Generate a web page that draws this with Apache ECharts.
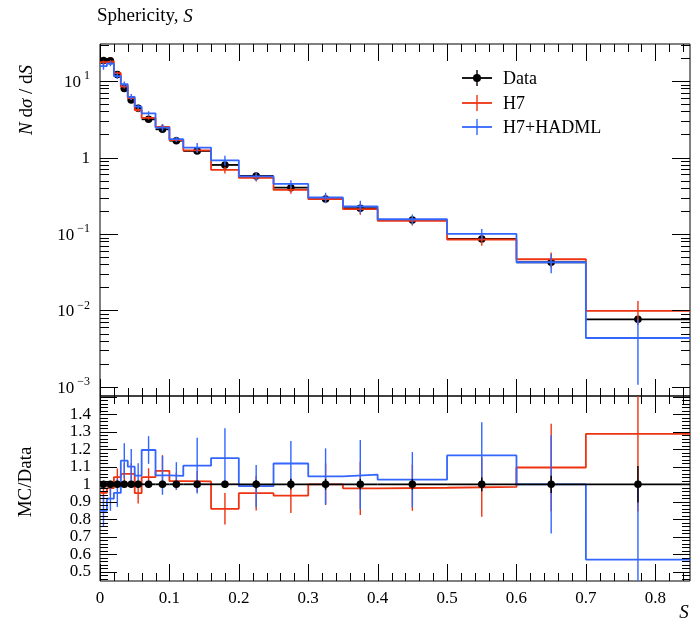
<!DOCTYPE html>
<html><head><meta charset="utf-8">
<script src="https://cdn.jsdelivr.net/npm/echarts@6/dist/echarts.min.js"></script>
<style>html,body{margin:0;padding:0;background:#fff}#c{width:691px;height:623px}</style>
</head><body><div id="c"></div>
<script>
// ---- data ----
const binEdges = [0, 0.01, 0.02, 0.03, 0.04, 0.05, 0.06, 0.08, 0.10, 0.12, 0.16, 0.20, 0.25, 0.30, 0.35, 0.40, 0.50, 0.60, 0.70, 0.85];
const dataVals = [18.5, 18.4, 12.2, 8.0, 5.65, 4.40, 3.16, 2.34, 1.66, 1.22, 0.80, 0.573, 0.403, 0.287, 0.217, 0.152, 0.086, 0.0427, 0.00767];
const dataErrs = [0.37, 0.37, 0.24, 0.16, 0.11, 0.088, 0.063, 0.047, 0.033, 0.024, 0.016, 0.014, 0.012, 0.0086, 0.0065, 0.0046, 0.0034, 0.0021, 0.0008];
const h7Vals = [17.6, 18.0, 12.7, 8.48, 5.99, 4.18, 3.29, 2.52, 1.69, 1.24, 0.688, 0.544, 0.377, 0.287, 0.212, 0.149, 0.0847, 0.0468, 0.00988];
const h7Errs = [0.93, 0.74, 0.61, 0.48, 0.34, 0.26, 0.16, 0.21, 0.083, 0.073, 0.072, 0.057, 0.040, 0.034, 0.033, 0.020, 0.0146, 0.0107, 0.0034];
const hadmlVals = [15.7, 16.9, 11.6, 9.08, 6.22, 4.62, 3.78, 2.46, 1.74, 1.35, 0.92, 0.567, 0.451, 0.300, 0.229, 0.156, 0.1002, 0.0427, 0.00437];
const hadmlErrs = [1.67, 1.29, 0.98, 0.80, 0.57, 0.31, 0.25, 0.26, 0.13, 0.195, 0.136, 0.069, 0.052, 0.046, 0.043, 0.024, 0.0163, 0.0120, 0.0033];

// ---- ticks ----
const xMajorTicks = [0, 0.1, 0.2, 0.3, 0.4, 0.5, 0.6, 0.7, 0.8];
const xMinorTicks = [0.02, 0.04, 0.06, 0.08, 0.12, 0.14, 0.16, 0.18, 0.22, 0.24, 0.26, 0.28, 0.32, 0.34, 0.36, 0.38, 0.42, 0.44, 0.46, 0.48, 0.52, 0.54, 0.56, 0.58, 0.62, 0.64, 0.66, 0.68, 0.72, 0.74, 0.76, 0.78, 0.82, 0.84];
const logMajorTicks = [0.001, 0.01, 0.1, 1, 10];
const logMinorTicks = [0.002, 0.003, 0.004, 0.005, 0.006, 0.007, 0.008, 0.009, 0.02, 0.03, 0.04, 0.05, 0.06, 0.07, 0.08, 0.09, 0.2, 0.3, 0.4, 0.5, 0.6, 0.7, 0.8, 0.9, 2, 3, 4, 5, 6, 7, 8, 9, 20, 30];
const ratioMajorTicks = [0.5, 0.6, 0.7, 0.8, 0.9, 1.0, 1.1, 1.2, 1.3, 1.4, 1.5];
const ratioMinorTicks = [0.46, 0.48, 0.52, 0.54, 0.56, 0.58, 0.62, 0.64, 0.66, 0.68, 0.72, 0.74, 0.76, 0.78, 0.82, 0.84, 0.86, 0.88, 0.92, 0.94, 0.96, 0.98, 1.02, 1.04, 1.06, 1.08, 1.12, 1.14, 1.16, 1.18, 1.22, 1.24, 1.26, 1.28, 1.32, 1.34, 1.36, 1.38, 1.42, 1.44, 1.46, 1.48];
const xTickLabels = ['0', '0.1', '0.2', '0.3', '0.4', '0.5', '0.6', '0.7', '0.8'];
const ratioTickLabels = ['0.5', '0.6', '0.7', '0.8', '0.9', '1', '1.1', '1.2', '1.3', '1.4'];

const RED = '#EE3311', BLUE = '#3366FF';
const FONT = 'Liberation Serif';

function stepData(vals) {
  const d = [];
  for (let i = 0; i < vals.length; i++) d.push([binEdges[i], vals[i]]);
  d.push([binEdges[vals.length], vals[vals.length - 1]]);
  return d;
}
function binRows(vals, errs) {
  const rows = [];
  for (let i = 0; i < vals.length; i++) {
    rows.push([(binEdges[i] + binEdges[i + 1]) / 2, vals[i], binEdges[i], binEdges[i + 1], errs[i]]);
  }
  return rows;
}
const h7Ratio = h7Vals.map((v, i) => v / dataVals[i]);
const hadmlRatio = hadmlVals.map((v, i) => v / dataVals[i]);
const h7RatioErr = h7Errs.map((e, i) => e / dataVals[i]);
const hadmlRatioErr = hadmlErrs.map((e, i) => e / dataVals[i]);
const dataRatio = dataVals.map(() => 1);
const dataRatioErr = dataErrs.map((e, i) => e / dataVals[i]);

function stepSeries(name, xi, yi, vals, color, z) {
  return { name, type: 'line', step: 'end', xAxisIndex: xi, yAxisIndex: yi, data: stepData(vals),
    showSymbol: false, symbol: 'none', silent: true, animation: false, z,
    lineStyle: { color, width: 1.8 } };
}
function errSeries(xi, yi, vals, errs, color, z, logy) {
  return { type: 'custom', xAxisIndex: xi, yAxisIndex: yi, data: binRows(vals, errs), silent: true, clip: true, z, animation: false,
    renderItem: (p, api) => {
      const c = api.value(0), v = api.value(1), e = api.value(4);
      let lo = v - e; if (logy && lo <= 0) lo = 1e-6;
      const a = api.coord([c, v + e]), b = api.coord([c, lo]);
      return { type: 'line', shape: { x1: a[0], y1: a[1], x2: b[0], y2: b[1] }, style: { stroke: color, lineWidth: 1.4 } };
    } };
}
function dataSeries(xi, yi, vals, errs, z, logy) {
  return { type: 'custom', xAxisIndex: xi, yAxisIndex: yi, data: binRows(vals, errs), silent: true, clip: true, z, animation: false,
    renderItem: (p, api) => {
      const c = api.value(0), v = api.value(1), l = api.value(2), h = api.value(3), e = api.value(4);
      let lo = v - e; if (logy && lo <= 0) lo = 1e-6;
      const pl = api.coord([l, v]), pr = api.coord([h, v]), pt = api.coord([c, v + e]), pb = api.coord([c, lo]), pc = api.coord([c, v]);
      return { type: 'group', children: [
        { type: 'line', shape: { x1: pl[0], y1: pl[1], x2: pr[0], y2: pr[1] }, style: { stroke: '#000', lineWidth: 1.8 } },
        { type: 'line', shape: { x1: pt[0], y1: pt[1], x2: pb[0], y2: pb[1] }, style: { stroke: '#000', lineWidth: 1.4 } },
        { type: 'circle', shape: { cx: pc[0], cy: pc[1], r: 3.8 }, style: { fill: '#000' } }
      ] };
    } };
}
function xTicks(xi, yi, yRef, vals, len) {
  return { type: 'custom', xAxisIndex: xi, yAxisIndex: yi, silent: true, clip: false, z: 20, animation: false,
    data: vals.map(v => [v, yRef]),
    renderItem: (p, api) => {
      const cs = p.coordSys; const x = Math.round(api.coord([api.value(0), yRef])[0]) + 0.5;
      return { type: 'group', children: [
        { type: 'line', shape: { x1: x, y1: cs.y + cs.height, x2: x, y2: cs.y + cs.height - len }, style: { stroke: '#000', lineWidth: 1 } },
        { type: 'line', shape: { x1: x, y1: cs.y, x2: x, y2: cs.y + len }, style: { stroke: '#000', lineWidth: 1 } }
      ] };
    } };
}
function yTicks(xi, yi, xRef, vals, len) {
  return { type: 'custom', xAxisIndex: xi, yAxisIndex: yi, silent: true, clip: false, z: 20, animation: false,
    data: vals.map(v => [xRef, v]),
    renderItem: (p, api) => {
      const cs = p.coordSys; const y = Math.round(api.coord([xRef, api.value(1)])[1]) + 0.5;
      return { type: 'group', children: [
        { type: 'line', shape: { x1: cs.x, y1: y, x2: cs.x + len, y2: y }, style: { stroke: '#000', lineWidth: 1 } },
        { type: 'line', shape: { x1: cs.x + cs.width, y1: y, x2: cs.x + cs.width - len, y2: y }, style: { stroke: '#000', lineWidth: 1 } }
      ] };
    } };
}

const chart = echarts.init(document.getElementById('c'), null, { renderer: 'canvas' });
const noAxisBits = { axisTick: { show: false }, splitLine: { show: false }, axisLine: { show: false } };

const option = {
  backgroundColor: '#fff',
  animation: false,
  textStyle: { fontFamily: FONT },
  grid: [
    { left: 100, right: 1, top: 44, height: 352, show: true, borderColor: '#000', borderWidth: 1, backgroundColor: 'transparent', containLabel: false },
    { left: 100, right: 1, top: 396, height: 185, show: true, borderColor: '#000', borderWidth: 1, backgroundColor: 'transparent', containLabel: false }
  ],
  xAxis: [
    Object.assign({ type: 'value', gridIndex: 0, min: 0, max: 0.85, interval: 0.1, axisLabel: { show: false } }, noAxisBits),
    Object.assign({ type: 'value', gridIndex: 1, min: 0, max: 0.85, interval: 0.1,
      axisLabel: { show: true, margin: 9, color: '#000', fontFamily: FONT, fontSize: 17, showMaxLabel: false,
        formatter: v => { const i = xMajorTicks.findIndex(t => Math.abs(t - v) < 1e-6); return i >= 0 ? xTickLabels[i] : ''; } } }, noAxisBits)
  ],
  yAxis: [
    Object.assign({ type: 'log', gridIndex: 0, min: 0.000762, max: 30.5, logBase: 10,
      axisLabel: { show: true, margin: 10, color: '#000', fontFamily: FONT, showMinLabel: false, showMaxLabel: false,
        formatter: v => {
          const e = Math.log10(v), r = Math.round(e);
          if (Math.abs(e - r) > 1e-6) return '';
          if (r === 0) return '{b|1}';
          return '{b|10}{s|' + (r < 0 ? '\u2212' + (-r) : r) + '}';
        },
        rich: { b: { fontSize: 17, fontFamily: FONT, color: '#000', verticalAlign: 'bottom', lineHeight: 20 },
                s: { fontSize: 12, fontFamily: FONT, color: '#000', verticalAlign: 'bottom', lineHeight: 20, padding: [0, 0, 9, 3] } } } }, noAxisBits),
    Object.assign({ type: 'value', gridIndex: 1, min: 0.447, max: 1.505, minInterval: 0.1, maxInterval: 0.1,
      axisLabel: { show: true, margin: 9, color: '#000', fontFamily: FONT, fontSize: 17, showMinLabel: false, showMaxLabel: false,
        formatter: v => { const i = ratioMajorTicks.findIndex(t => Math.abs(t - v) < 1e-6); return (i >= 0 && i < ratioTickLabels.length) ? ratioTickLabels[i] : ''; } } }, noAxisBits)
  ],
  series: [
    // top panel
    dataSeries(0, 0, dataVals, dataErrs, 2, true),
    stepSeries('H7', 0, 0, h7Vals, RED, 3),
    errSeries(0, 0, h7Vals, h7Errs, RED, 3, true),
    stepSeries('H7+HADML', 0, 0, hadmlVals, BLUE, 4),
    errSeries(0, 0, hadmlVals, hadmlErrs, BLUE, 4, true),
    // ratio panel
    stepSeries('H7 ratio', 1, 1, h7Ratio, RED, 3),
    errSeries(1, 1, h7Ratio, h7RatioErr, RED, 3, false),
    stepSeries('HADML ratio', 1, 1, hadmlRatio, BLUE, 4),
    errSeries(1, 1, hadmlRatio, hadmlRatioErr, BLUE, 4, false),
    dataSeries(1, 1, dataRatio, dataRatioErr, 5, false),
    // ticks
    xTicks(0, 0, 1, xMajorTicks, 17), xTicks(0, 0, 1, xMinorTicks, 8),
    xTicks(1, 1, 1, xMajorTicks, 17), xTicks(1, 1, 1, xMinorTicks, 8),
    yTicks(0, 0, 0.1, logMajorTicks, 18), yTicks(0, 0, 0.1, logMinorTicks, 9),
    yTicks(1, 1, 0.1, ratioMajorTicks, 17), yTicks(1, 1, 0.1, ratioMinorTicks, 8)
  ],
  graphic: [
    { type: 'text', left: 97, top: 7, style: { text: '{a|Sphericity, }{i|S}', rich: {
        a: { fontFamily: FONT, fontSize: 19, fill: '#000' }, i: { fontFamily: FONT, fontSize: 19, fontStyle: 'italic', fill: '#000' } } } },
    { type: 'text', x: 27, y: 100, rotation: Math.PI / 2, style: { text: '{i|N} d{i|σ} / d{i|S}', align: 'center', verticalAlign: 'middle',
        fontFamily: FONT, fontSize: 19, fill: '#000',
        rich: { i: { fontFamily: FONT, fontSize: 19, fontStyle: 'italic', fill: '#000' } } } },
    { type: 'text', x: 26, y: 482, rotation: Math.PI / 2, style: { text: 'MC/Data', align: 'center', verticalAlign: 'middle',
        fontFamily: FONT, fontSize: 19, fill: '#000' } },
    { type: 'text', x: 684, y: 613, style: { text: 'S', align: 'center', verticalAlign: 'middle', fontFamily: FONT, fontSize: 19, fontStyle: 'italic', fill: '#000' } },
    // legend
    { type: 'group', children: [
      { type: 'line', shape: { x1: 462, y1: 78, x2: 492, y2: 78 }, style: { stroke: '#000', lineWidth: 1.8 } },
      { type: 'line', shape: { x1: 477, y1: 70, x2: 477, y2: 86 }, style: { stroke: '#000', lineWidth: 1.4 } },
      { type: 'circle', shape: { cx: 477, cy: 78, r: 4 }, style: { fill: '#000' } },
      { type: 'text', x: 503, y: 79, style: { text: 'Data', verticalAlign: 'middle', fontFamily: FONT, fontSize: 18, fill: '#000' } },
      { type: 'line', shape: { x1: 462, y1: 103, x2: 492, y2: 103 }, style: { stroke: RED, lineWidth: 1.8 } },
      { type: 'line', shape: { x1: 477, y1: 95, x2: 477, y2: 111 }, style: { stroke: RED, lineWidth: 1.4 } },
      { type: 'text', x: 503, y: 104, style: { text: 'H7', verticalAlign: 'middle', fontFamily: FONT, fontSize: 18, fill: '#000' } },
      { type: 'line', shape: { x1: 462, y1: 127, x2: 492, y2: 127 }, style: { stroke: BLUE, lineWidth: 1.8 } },
      { type: 'line', shape: { x1: 477, y1: 119, x2: 477, y2: 135 }, style: { stroke: BLUE, lineWidth: 1.4 } },
      { type: 'text', x: 503, y: 128, style: { text: 'H7+HADML', verticalAlign: 'middle', fontFamily: FONT, fontSize: 18, fill: '#000' } }
    ] }
  ]
};
chart.setOption(option);
</script>
</body></html>
